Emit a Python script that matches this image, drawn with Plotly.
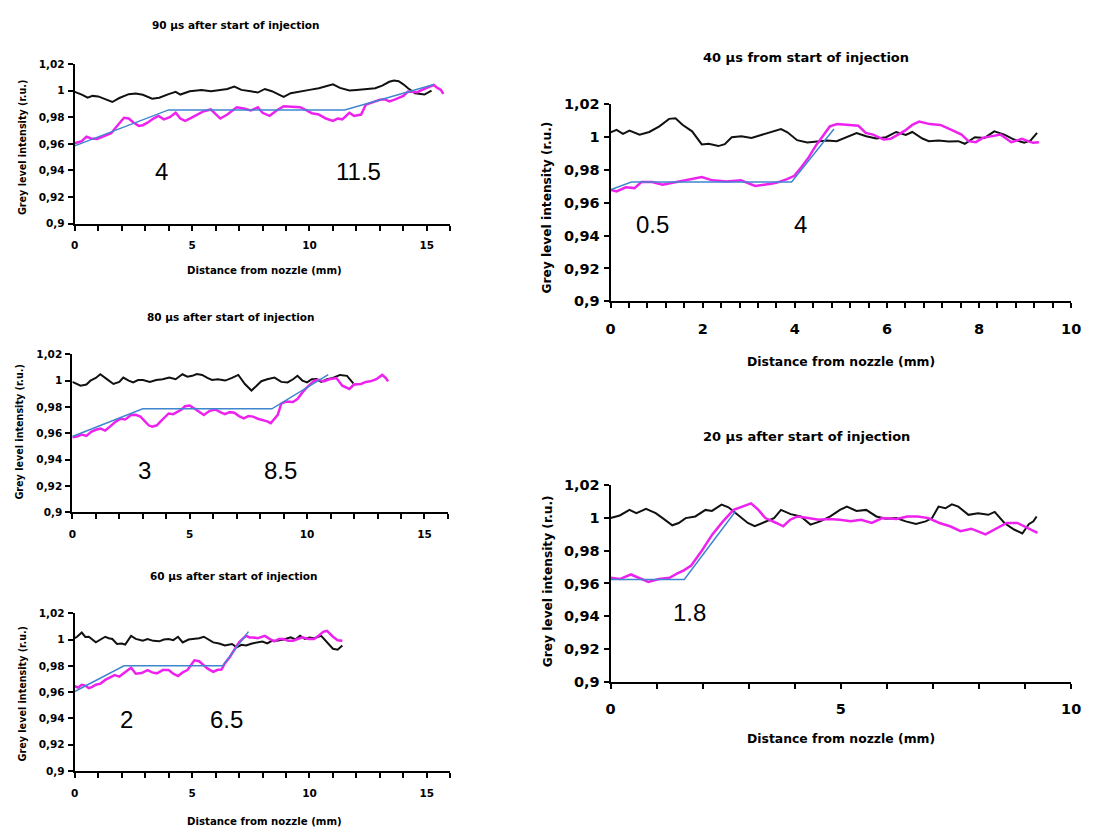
import plotly.graph_objects as go

W, H = 1093, 836

# ---------------- DATA ----------------
# 90 us after start of injection
x90_black = [0, 0.3, 0.55, 0.76, 1.0, 1.3, 1.6, 1.9, 2.3, 2.6, 2.9, 3.3, 3.6, 4.0, 4.3, 4.5, 4.9, 5.4, 5.8, 6.2,
             6.5, 6.8, 7.1, 7.5, 7.8, 8.1, 8.4, 8.7, 8.9, 9.2, 9.6, 10.0, 10.4, 10.7, 11.0, 11.3, 11.7, 12.0, 12.4,
             12.8, 13.1, 13.4, 13.6, 13.8, 14.0, 14.2, 14.5, 14.9, 15.2]
y90_black = [0.999, 0.997, 0.9946, 0.996, 0.9956, 0.9932, 0.9914, 0.9944, 0.9973, 0.9978, 0.9968, 0.9939, 0.9946,
             0.9973, 0.999, 0.997, 0.9995, 1.0005, 0.9995, 1.0004, 1.0012, 1.003, 1.0005, 0.9995, 0.9985, 1.0012,
             0.9995, 0.997, 0.9953, 0.998, 0.999, 1.0005, 1.0017, 1.003, 1.0047, 1.002, 1.0, 1.0005, 1.001, 1.0017,
             1.0037, 1.0066, 1.0076, 1.007, 1.0047, 1.0017, 0.998, 0.997, 1.0]
x90_mag = [0, 0.3, 0.5, 0.7, 0.95, 1.33, 1.55, 1.75, 1.95, 2.1, 2.3, 2.5, 2.73, 2.9, 3.1, 3.35, 3.57, 3.8, 4.05,
           4.3, 4.5, 4.7, 4.9, 5.1, 5.3, 5.5, 5.8, 6.0, 6.2, 6.5, 6.9, 7.2, 7.5, 7.8, 8.0, 8.3, 8.6, 8.9, 9.2, 9.6,
           9.9, 10.1, 10.4, 10.7, 11.0, 11.2, 11.4, 11.7, 11.9, 12.2, 12.4, 12.7, 13.0, 13.2, 13.4, 13.6, 13.8,
           14.0, 14.2, 14.4, 14.6, 14.8, 15.05, 15.3, 15.45, 15.6, 15.7]
y90_mag = [0.9605, 0.962, 0.9654, 0.964, 0.9637, 0.9661, 0.968, 0.9723, 0.977, 0.9796, 0.979, 0.976, 0.9735, 0.974,
           0.9759, 0.979, 0.9809, 0.9784, 0.98, 0.9833, 0.979, 0.9772, 0.979, 0.9809, 0.983, 0.9845, 0.9858, 0.982,
           0.979, 0.982, 0.9875, 0.9865, 0.985, 0.9875, 0.9833, 0.981, 0.985, 0.9882, 0.988, 0.9875, 0.985, 0.983,
           0.982, 0.979, 0.9772, 0.979, 0.9784, 0.9833, 0.981, 0.982, 0.9894, 0.991, 0.9931, 0.9935, 0.9919, 0.993,
           0.9943, 0.996, 0.9993, 0.999, 0.9988, 1.0005, 1.0022, 1.0042, 1.002, 1.0005, 0.9975]
x90_fit = [0, 4, 11.5, 15.3]
y90_fit = [0.9585, 0.9855, 0.9855, 1.0045]

# 80 us after start of injection
x80_black = [0, 0.35, 0.6, 0.77, 1.0, 1.19, 1.47, 1.75, 2.0, 2.17, 2.4, 2.59, 2.8, 3.01, 3.3, 3.57, 3.85, 4.13,
             4.4, 4.69, 4.9, 5.11, 5.3, 5.53, 5.75, 5.95, 6.2, 6.51, 6.8, 7.07, 7.35, 7.63, 7.85, 8.05, 8.3, 8.61,
             8.9, 9.17, 9.4, 9.59, 9.8, 10.0, 10.2, 10.4, 10.6, 10.85, 11.1, 11.4, 11.7, 11.97]
y80_black = [0.999, 0.9961, 0.997, 0.9999, 1.002, 1.0048, 1.0011, 0.9974, 0.999, 1.0023, 1.0, 0.9986, 1.0004,
             1.0004, 0.999, 1.0004, 1.001, 1.0023, 1.001, 1.0048, 1.003, 1.0036, 1.005, 1.0043, 1.002, 1.0004,
             1.001, 1.0, 1.002, 1.0043, 0.9974, 0.9924, 0.996, 0.9995, 1.001, 1.0023, 0.999, 0.9986, 1.001, 1.0036,
             1.0, 0.9986, 1.001, 1.0011, 0.999, 1.0011, 1.002, 1.0043, 1.0036, 0.9978]
x80_mag = [0, 0.2, 0.4, 0.6, 0.8, 1.0, 1.2, 1.4, 1.6, 1.85, 2.05, 2.25, 2.5, 2.7, 2.9, 3.1, 3.25, 3.4, 3.6, 3.75,
           3.95, 4.1, 4.3, 4.5, 4.65, 4.8, 5.0, 5.2, 5.4, 5.6, 5.85, 6.1, 6.3, 6.5, 6.7, 6.9, 7.1, 7.3, 7.5, 7.7,
           7.9, 8.1, 8.3, 8.45, 8.6, 8.75, 8.9, 9.1, 9.4, 9.6, 9.8, 10.0, 10.3, 10.5, 10.7, 10.95, 11.25, 11.5,
           11.8, 12.0, 12.3, 12.5, 12.7, 12.95, 13.2, 13.35, 13.45]
y80_mag = [0.957, 0.9575, 0.959, 0.958, 0.961, 0.9626, 0.9635, 0.962, 0.965, 0.9688, 0.971, 0.9705, 0.9738,
           0.974, 0.9726, 0.9688, 0.966, 0.965, 0.966, 0.9688, 0.972, 0.975, 0.9745, 0.9763, 0.978, 0.9805, 0.981,
           0.9788, 0.976, 0.9738, 0.977, 0.978, 0.976, 0.9745, 0.976, 0.9755, 0.973, 0.9713, 0.973, 0.9726, 0.971,
           0.97, 0.969, 0.9676, 0.9705, 0.974, 0.9825, 0.984, 0.9837, 0.9862, 0.991, 0.9949, 0.9999, 1.0005,
           0.9994, 1.001, 1.0019, 0.9961, 0.9936, 0.997, 0.9974, 0.999, 0.9994, 1.001, 1.0043, 1.002, 0.9994]
x80_fit = [0, 3, 8.5, 10.9]
y80_fit = [0.9575, 0.9785, 0.9785, 1.0045]

# 60 us after start of injection
x60_black = [0, 0.1, 0.3, 0.45, 0.6, 0.75, 0.9, 1.1, 1.3, 1.45, 1.6, 1.8, 2.0, 2.15, 2.4, 2.6, 2.9, 3.1, 3.35,
             3.6, 3.8, 4.0, 4.2, 4.4, 4.6, 4.85, 5.1, 5.3, 5.5, 5.7, 5.9, 6.15, 6.4, 6.7, 6.9, 7.1, 7.3, 7.55, 7.8,
             8.0, 8.2, 8.4, 8.6, 8.9, 9.2, 9.4, 9.6, 9.8, 10.0, 10.2, 10.5, 10.65, 10.8, 11.0, 11.2, 11.4]
y60_black = [1.001, 1.0021, 1.0053, 1.002, 1.0021, 1.0, 0.9978, 1.0, 1.0021, 1.001, 1.0004, 0.9966, 0.997, 0.9962,
             1.0028, 1.0005, 0.9991, 1.0004, 0.999, 0.9986, 1.0, 1.0004, 0.9995, 1.0021, 0.9978, 1.0, 1.0004, 1.001,
             1.0021, 1.0, 0.9978, 0.997, 0.9954, 0.9966, 0.9941, 0.996, 0.9954, 0.997, 0.9978, 0.9985, 0.9971,
             0.999, 0.9991, 1.0, 1.0016, 1.0, 1.0028, 1.0005, 1.0016, 1.001, 1.0028, 1.0, 0.9966, 0.993, 0.9922,
             0.9954]
x60_mag = [0, 0.15, 0.3, 0.45, 0.6, 0.75, 0.9, 1.1, 1.3, 1.5, 1.7, 1.9, 2.2, 2.4, 2.6, 2.85, 3.1, 3.3, 3.5, 3.75,
           4.0, 4.2, 4.4, 4.6, 4.8, 4.95, 5.1, 5.3, 5.45, 5.65, 5.9, 6.1, 6.25, 6.4, 6.6, 6.8, 7.0, 7.15, 7.3, 7.45,
           7.6, 7.8, 8.1, 8.3, 8.5, 8.7, 8.9, 9.1, 9.3, 9.5, 9.7, 9.95, 10.2, 10.4, 10.6, 10.75, 10.9, 11.0, 11.2,
           11.4]
y60_mag = [0.9645, 0.9635, 0.9656, 0.965, 0.9631, 0.964, 0.9656, 0.9665, 0.9693, 0.971, 0.973, 0.9718, 0.976,
           0.9785, 0.974, 0.9745, 0.9768, 0.975, 0.9743, 0.9768, 0.9768, 0.974, 0.9722, 0.975, 0.9768, 0.9805,
           0.9842, 0.9835, 0.981, 0.978, 0.9755, 0.977, 0.9771, 0.982, 0.9865, 0.9917, 0.9978, 1.0005, 1.0028,
           1.0016, 1.0016, 1.001, 1.0028, 1.0005, 0.9986, 1.0004, 1.0004, 0.999, 0.9991, 1.0004, 1.0016, 1.0004,
           1.0004, 1.003, 1.006, 1.0065, 1.0035, 1.0021, 0.9995, 0.9991]
x60_fit = [0, 2.1, 6.3, 7.4]
y60_fit = [0.9605, 0.98, 0.98, 1.006]

# 40 us from start of injection
x40_black = [0.0, 0.13, 0.27, 0.41, 0.63, 0.84, 1.06, 1.27, 1.41, 1.56, 1.77, 1.98, 2.13, 2.34, 2.48, 2.63, 2.84,
             3.06, 3.27, 3.48, 3.70, 3.84, 4.05, 4.27, 4.48, 4.70, 4.91, 5.13, 5.34, 5.55, 5.77, 5.98, 6.20, 6.41,
             6.55, 6.77, 6.91, 7.12, 7.34, 7.55, 7.69, 7.91, 8.12, 8.33, 8.55, 8.76, 8.98, 9.12, 9.26]
y40_black = [1.003, 1.0045, 1.002, 1.004, 1.0015, 1.0032, 1.0066, 1.0112, 1.0115, 1.0076, 1.0036, 0.9956, 0.996,
             0.9946, 0.9958, 1.0, 1.0006, 0.9996, 1.0014, 1.003, 1.005, 1.003, 0.9982, 0.9968, 0.9974, 0.998,
             0.9976, 1.0, 1.0026, 1.0006, 0.9992, 1.0, 1.0032, 1.0014, 1.0032, 0.9992, 0.9976, 0.998, 0.9974,
             0.9976, 0.996, 1.0, 0.9996, 1.0036, 1.0016, 0.9986, 0.9966, 0.998, 1.0026]
x40_mag = [0, 0.13, 0.33, 0.52, 0.67, 0.9, 1.13, 1.44, 1.75, 1.98, 2.21, 2.52, 2.83, 3.14, 3.45, 3.6, 3.83, 3.99,
           4.14, 4.3, 4.45, 4.61, 4.76, 4.92, 5.15, 5.38, 5.54, 5.7, 5.93, 6.08, 6.24, 6.39, 6.55, 6.7, 6.93, 7.16,
           7.39, 7.62, 7.77, 7.93, 8.08, 8.24, 8.47, 8.7, 8.93, 9.17, 9.3]
y40_mag = [0.968, 0.967, 0.9695, 0.969, 0.9727, 0.9727, 0.971, 0.9727, 0.9745, 0.9757, 0.9737, 0.973, 0.9737,
           0.9703, 0.9715, 0.9722, 0.9745, 0.9765, 0.9817, 0.9877, 0.9946, 1.0006, 1.0066, 1.008, 1.0075, 1.007,
           1.0026, 1.0016, 0.9986, 0.999, 1.0016, 1.004, 1.0075, 1.0095, 1.008, 1.0075, 1.0046, 1.0016, 0.9976,
           0.997, 0.9996, 1.0006, 1.0016, 0.997, 0.999, 0.9966, 0.997]
x40_fit = [0, 0.45, 3.93, 4.85]
y40_fit = [0.968, 0.9727, 0.9727, 1.005]

# 20 us after start of injection
x20_black = [0.0, 0.2, 0.41, 0.56, 0.77, 0.98, 1.13, 1.34, 1.48, 1.63, 1.84, 2.06, 2.2, 2.41, 2.56, 2.77, 2.98,
             3.13, 3.34, 3.55, 3.7, 3.91, 4.13, 4.34, 4.55, 4.77, 4.98, 5.13, 5.34, 5.55, 5.77, 5.98, 6.2, 6.41,
             6.63, 6.84, 6.98, 7.12, 7.27, 7.41, 7.55, 7.77, 7.98, 8.2, 8.34, 8.55, 8.76, 8.94, 9.08, 9.18, 9.25]
y20_black = [1.0, 1.0016, 1.005, 1.003, 1.0056, 1.003, 1.0, 0.9956, 0.997, 1.0, 1.001, 1.005, 1.0044, 1.0082,
             1.0066, 1.002, 0.997, 0.995, 0.9976, 1.0, 1.005, 1.0024, 1.001, 0.996, 0.998, 1.001, 1.005, 1.007,
             1.0044, 1.005, 1.001, 0.9996, 1.0, 0.998, 0.9964, 0.998, 1.0, 1.007, 1.006, 1.0084, 1.007, 1.002,
             1.003, 1.002, 1.0038, 0.997, 0.993, 0.9906, 0.9963, 0.998, 1.001]
x20_mag = [0, 0.2, 0.44, 0.67, 0.82, 1.05, 1.28, 1.44, 1.59, 1.75, 1.98, 2.21, 2.44, 2.67, 2.9, 3.05, 3.21, 3.36,
           3.6, 3.75, 3.9, 4.06, 4.29, 4.52, 4.75, 4.98, 5.21, 5.44, 5.67, 5.9, 6.21, 6.44, 6.67, 6.9, 7.14, 7.37,
           7.6, 7.83, 8.14, 8.37, 8.6, 8.83, 9.06, 9.27]
y20_mag = [0.9635, 0.9627, 0.9655, 0.9627, 0.961, 0.9627, 0.9635, 0.966, 0.968, 0.971, 0.98, 0.99, 0.998, 1.005,
           1.0074, 1.009, 1.005, 1.0, 0.997, 0.995, 0.999, 1.001, 1.0, 0.999, 0.9994, 0.999, 0.998, 0.999, 0.997,
           1.0, 0.9994, 1.001, 1.001, 1.0, 0.997, 0.995, 0.992, 0.9935, 0.99, 0.9935, 0.997, 0.997, 0.994, 0.991]
x20_fit = [0, 1.6, 2.71]
y20_fit = [0.9625, 0.9625, 1.004]

# Breakpoint labels written on each panel
labels90 = ["4", "11.5"]
labels80 = ["3", "8.5"]
labels60 = ["2", "6.5"]
labels40 = ["0.5", "4"]
labels20 = ["1.8"]

y_tickvals = [0.9, 0.92, 0.94, 0.96, 0.98, 1.0, 1.02]
y_ticktext = ["0,9", "0,92", "0,94", "0,96", "0,98", "1", "1,02"]

# ---------------- FIGURE ----------------
BLACK = "#111111"
MAG = "#ee22ee"
BLUE = "#3f86cf"
TFONT = "DejaVu Sans"
fig = go.Figure()


def px2fx(px):
    return px / W


def py2fy(py):
    return 1 - py / H


panels = [
    dict(bx=x90_black, by=y90_black, mx=x90_mag, my=y90_mag, fx=x90_fit, fy=y90_fit,
         xd=(70.7, 451.5), yd=(57, 220), xr=[0, 16], xt=[0, 5, 10, 15], minor=1, fs=10.5,
         title="90 \u00b5s after start of injection", tpos=(234, 17), ypos=(18, 142), xpos=(263, 268),
         labels=labels90, lpos=[(3.71, 0.939), (12.08, 0.939)]),
    dict(bx=x80_black, by=y80_black, mx=x80_mag, my=y80_mag, fx=x80_fit, fy=y80_fit,
         xd=(68.3, 449.1), yd=(353, 514), xr=[0, 16], xt=[0, 5, 10, 15], minor=1, fs=10.5,
         title="80 \u00b5s after start of injection", tpos=(229, 315), ypos=(15, 432), xpos=None,
         labels=labels80, lpos=[(3.08, 0.9315), (8.87, 0.9315)]),
    dict(bx=x60_black, by=y60_black, mx=x60_mag, my=y60_mag, fx=x60_fit, fy=y60_fit,
         xd=(70.7, 451.5), yd=(617, 778), xr=[0, 16], xt=[0, 5, 10, 15], minor=1, fs=10.5,
         title="60 \u00b5s after start of injection", tpos=(232, 579), ypos=(18, 699), xpos=(263, 829),
         labels=labels60, lpos=[(2.2, 0.9395), (6.46, 0.9395)]),
    dict(bx=x40_black, by=y40_black, mx=x40_mag, my=y40_mag, fx=x40_fit, fy=y40_fit,
         xd=(614, 1081), yd=(98.3, 299), xr=[0, 10], xt=[0, 2, 4, 6, 8, 10], minor=0.4, fs=14.5,
         title="40 \u00b5s from start of injection", tpos=(812, 50), ypos=(550, 203), xpos=(848, 360),
         labels=labels40, lpos=[(0.91, 0.947), (4.12, 0.947)]),
    dict(bx=x20_black, by=y20_black, mx=x20_mag, my=y20_mag, fx=x20_fit, fy=y20_fit,
         xd=(614, 1081), yd=(486.7, 686.7), xr=[0, 10], xt=[0, 5, 10], minor=1, fs=14.5,
         title="20 \u00b5s after start of injection", tpos=(813, 437), ypos=(550, 584), xpos=(848, 745),
         labels=labels20, lpos=[(1.71, 0.942)]),
]

annotations = []
for i, p in enumerate(panels, start=1):
    xa = "x" if i == 1 else f"x{i}"
    ya = "y" if i == 1 else f"y{i}"
    fig.add_trace(go.Scatter(x=p["bx"], y=p["by"], mode="lines", line=dict(color=BLACK, width=2),
                             xaxis=xa, yaxis=ya, showlegend=False, hoverinfo="skip"))
    fig.add_trace(go.Scatter(x=p["mx"], y=p["my"], mode="lines", line=dict(color=MAG, width=2.5),
                             xaxis=xa, yaxis=ya, showlegend=False, hoverinfo="skip"))
    fig.add_trace(go.Scatter(x=p["fx"], y=p["fy"], mode="lines", line=dict(color=BLUE, width=1.5),
                             xaxis=xa, yaxis=ya, showlegend=False, hoverinfo="skip"))
    small = p["fs"] < 12
    xaxis = dict(domain=[px2fx(p["xd"][0]), px2fx(p["xd"][1])], range=p["xr"], anchor=ya,
                 tickvals=p["xt"], ticktext=[str(v) for v in p["xt"]],
                 showline=True, linecolor="black", linewidth=2, ticks="outside", ticklen=5,
                 tickwidth=1.5, tickcolor="black", showgrid=False, zeroline=False,
                 minor=dict(dtick=p["minor"], tick0=0, ticks="outside", ticklen=5, tickwidth=1.5,
                            tickcolor="black", showgrid=False),
                 tickfont=dict(family=TFONT, size=p["fs"], color="black", weight="bold"),
                 ticklabelstandoff=6 if small else 8, fixedrange=True)
    yaxis = dict(domain=[py2fy(p["yd"][1]), py2fy(p["yd"][0])], range=[0.9, 1.02], anchor=xa,
                 tickvals=y_tickvals, ticktext=y_ticktext,
                 showline=True, linecolor="black", linewidth=2, ticks="outside", ticklen=5,
                 tickwidth=1.5, tickcolor="black", showgrid=False, zeroline=False,
                 tickfont=dict(family=TFONT, size=p["fs"], color="black", weight="bold"),
                 ticklabelstandoff=1, fixedrange=True)
    fig.layout[f"xaxis{'' if i == 1 else i}"] = xaxis
    fig.layout[f"yaxis{'' if i == 1 else i}"] = yaxis

    tfs = 10.5 if small else 13
    yfs = 9.6 if small else 12.2
    xfs = 10.2 if small else 12.4
    annotations.append(dict(text=p["title"], x=px2fx(p["tpos"][0]), y=py2fy(p["tpos"][1]), xref="paper",
                            yref="paper", showarrow=False, xanchor="center", yanchor="middle",
                            font=dict(family=TFONT, size=tfs, color="black", weight="bold")))
    annotations.append(dict(text="Grey level intensity (r.u.)", x=px2fx(p["ypos"][0]), y=py2fy(p["ypos"][1]),
                            xref="paper", yref="paper", showarrow=False, textangle=-90,
                            xanchor="center", yanchor="middle",
                            font=dict(family=TFONT, size=yfs, color="black", weight="bold")))
    if p["xpos"] is not None:
        annotations.append(dict(text="Distance from nozzle (mm)", x=px2fx(p["xpos"][0]), y=py2fy(p["xpos"][1]),
                                xref="paper", yref="paper", showarrow=False, xanchor="center",
                                yanchor="middle",
                                font=dict(family=TFONT, size=xfs, color="black", weight="bold")))
    for txt, (lx, ly) in zip(p["labels"], p["lpos"]):
        annotations.append(dict(text=txt, x=lx, y=ly, xref=xa, yref=ya, showarrow=False,
                                xanchor="center", yanchor="middle",
                                font=dict(family="Liberation Sans", size=24, color="black")))

fig.update_layout(width=W, height=H, margin=dict(l=0, r=0, t=0, b=0), paper_bgcolor="white",
                  plot_bgcolor="white", annotations=annotations, showlegend=False)

fig.write_html("out.html", config={"displayModeBar": False})
